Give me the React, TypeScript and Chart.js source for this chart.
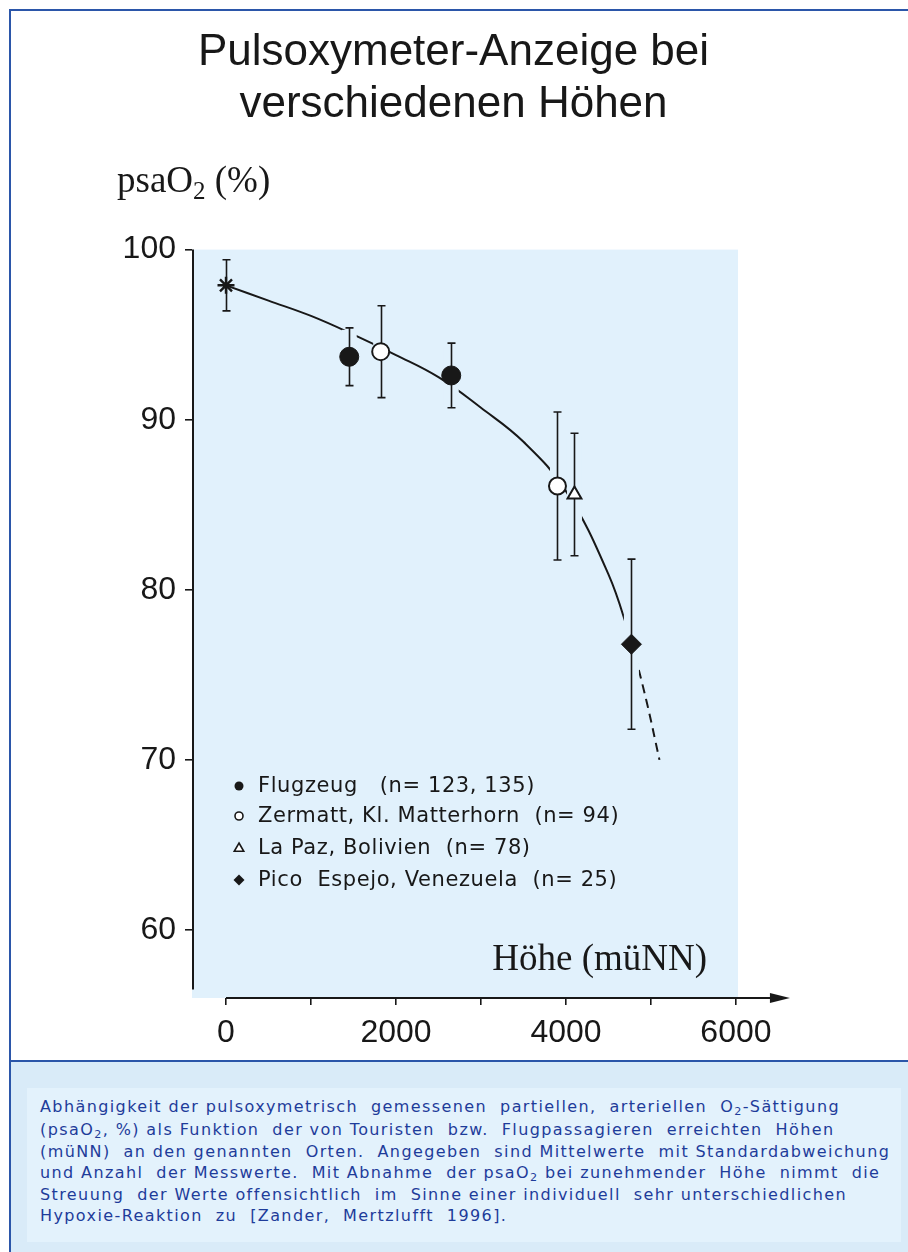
import React, { useEffect, useRef } from 'react';
import { Chart, registerables } from 'chart.js';

Chart.register(...registerables);

// ---------- texts ----------
const TITLE_LINES = ['Pulsoxymeter-Anzeige bei', 'verschiedenen Höhen'];
const X_LABEL = 'Höhe (müNN)';
const Y_LABEL_MAIN = 'psaO';
const Y_LABEL_SUB = '2';
const Y_LABEL_TAIL = ' (%)';

// ---------- axes ----------
const X_TICK_VALUES = [0, 1000, 2000, 3000, 4000, 5000, 6000];
const X_TICK_LABELS = ['0', '', '2000', '', '4000', '', '6000'];
const Y_TICK_VALUES = [60, 70, 80, 90, 100];
const Y_TICK_LABELS = ['60', '70', '80', '90', '100'];
const X_MIN = -400;
const X_MAX = 6024;
const Y_MIN = 56;
const Y_MAX = 100;

// ---------- data (Höhe in m, psaO2 in %, Standardabweichung) ----------
const seaX = [0];
const seaY = [97.9];
const seaSD = [1.5];

const flugX = [1450, 2650];
const flugY = [93.7, 92.6];
const flugSD = [1.7, 1.9];

const zermattX = [1820, 3900];
const zermattY = [94.0, 86.1];
const zermattSD = [2.7, 4.35];

const lapazX = [4100];
const lapazY = [85.6];
const lapazSD = [3.6];

const picoX = [4770];
const picoY = [76.8];
const picoSD = [5.0];

// fitted curve
const curveX = [0, 500, 1000, 1500, 2000, 2500, 3000, 3500, 4000, 4500, 4770];
const curveY = [97.9, 97.0, 96.1, 95.0, 93.8, 92.5, 90.7, 88.7, 85.8, 80.9, 77.0];
const dashX = [4770, 4950, 5100];
const dashY = [77.0, 73.4, 70.0];

// ---------- legend ----------
const LEGEND_LABELS = [
  'Flugzeug   (n= 123, 135)',
  'Zermatt, Kl. Matterhorn  (n= 94)',
  'La Paz, Bolivien  (n= 78)',
  'Pico  Espejo, Venezuela  (n= 25)',
];
const LEGEND_STYLES = ['dot', 'ring', 'triangle', 'diamond'];

// ---------- caption ----------
const CAPTION_LINES = [
  ['Abhängigkeit der pulsoxymetrisch  gemessenen  partiellen,  arteriellen  O', '2', '-Sättigung'],
  ['(psaO', '2', ', %) als Funktion  der von Touristen  bzw.  Flugpassagieren  erreichten  Höhen'],
  ['(müNN)  an den genannten  Orten.  Angegeben  sind Mittelwerte  mit Standardabweichung'],
  ['und Anzahl  der Messwerte.  Mit Abnahme  der psaO', '2', ' bei zunehmender  Höhe  nimmt  die'],
  ['Streuung  der Werte offensichtlich  im  Sinne einer individuell  sehr unterschiedlichen'],
  ['Hypoxie-Reaktion  zu  [Zander,  Mertzlufft  1996].'],
];

const INK = '#181818';
const PLOT_BG = '#e1f1fc';
const SANS = "'Liberation Sans', Arial, sans-serif";
const SERIF = "'Liberation Serif', 'Times New Roman', serif";
const ROUND = "'DejaVu Sans', sans-serif";

const pts = (xs: number[], ys: number[]) => xs.map((x, i) => ({ x, y: ys[i] }));

const ERROR_GROUPS = [
  { xs: seaX, ys: seaY, sd: seaSD, halo: false },
  { xs: flugX, ys: flugY, sd: flugSD, halo: true },
  { xs: zermattX, ys: zermattY, sd: zermattSD, halo: true },
  { xs: lapazX, ys: lapazY, sd: lapazSD, halo: true },
  { xs: picoX, ys: picoY, sd: picoSD, halo: true },
];

function drawMarker(ctx: CanvasRenderingContext2D, style: string, x: number, y: number, r: number) {
  ctx.save();
  ctx.fillStyle = INK;
  ctx.strokeStyle = INK;
  ctx.lineWidth = 1.6;
  ctx.beginPath();
  if (style === 'dot') {
    ctx.arc(x, y, r, 0, Math.PI * 2);
    ctx.fill();
  } else if (style === 'ring') {
    ctx.arc(x, y, r, 0, Math.PI * 2);
    ctx.fillStyle = '#fff';
    ctx.fill();
    ctx.stroke();
  } else if (style === 'triangle') {
    ctx.moveTo(x, y - r);
    ctx.lineTo(x + r * 0.95, y + r * 0.65);
    ctx.lineTo(x - r * 0.95, y + r * 0.65);
    ctx.closePath();
    ctx.fillStyle = '#fff';
    ctx.fill();
    ctx.stroke();
  } else {
    ctx.moveTo(x, y - r);
    ctx.lineTo(x + r, y);
    ctx.lineTo(x, y + r);
    ctx.lineTo(x - r, y);
    ctx.closePath();
    ctx.fill();
  }
  ctx.restore();
}

function drawErrorBars(chart: any) {
  const { ctx } = chart;
  const xs = chart.scales.x;
  const ys = chart.scales.y;
  ctx.save();
  // halo that interrupts the curve where it crosses the bars
  ctx.strokeStyle = PLOT_BG;
  ctx.lineWidth = 15;
  for (const g of ERROR_GROUPS) {
    if (!g.halo) continue;
    g.xs.forEach((xv: number, i: number) => {
      const px = xs.getPixelForValue(xv);
      ctx.beginPath();
      ctx.moveTo(px, ys.getPixelForValue(g.ys[i] + g.sd[i]) + 2);
      ctx.lineTo(px, ys.getPixelForValue(g.ys[i] - g.sd[i]) - 2);
      ctx.stroke();
    });
  }
  ctx.strokeStyle = INK;
  ctx.lineWidth = 1.6;
  for (const g of ERROR_GROUPS) {
    g.xs.forEach((xv: number, i: number) => {
      const px = Math.round(xs.getPixelForValue(xv)) + 0.5;
      const top = ys.getPixelForValue(g.ys[i] + g.sd[i]);
      const bot = ys.getPixelForValue(g.ys[i] - g.sd[i]);
      ctx.beginPath();
      ctx.moveTo(px, top);
      ctx.lineTo(px, bot);
      ctx.moveTo(px - 4, top);
      ctx.lineTo(px + 4, top);
      ctx.moveTo(px - 4, bot);
      ctx.lineTo(px + 4, bot);
      ctx.stroke();
    });
  }
  ctx.restore();
}

const CURVE_INDEX = 5;

const decorPlugin = {
  id: 'decor',
  beforeDraw(chart: any) {
    const { ctx, chartArea: a } = chart;
    ctx.save();
    ctx.fillStyle = '#ffffff';
    ctx.fillRect(0, 0, chart.width, chart.height);
    ctx.fillStyle = PLOT_BG;
    ctx.fillRect(a.left, a.top, a.right - a.left, a.bottom - a.top);
    ctx.restore();
  },
  afterDatasetDraw(chart: any, args: any) {
    if (args.index === CURVE_INDEX) drawErrorBars(chart);
  },
  afterDraw(chart: any) {
    const { ctx, chartArea: a } = chart;
    const xs = chart.scales.x;
    const ys = chart.scales.y;
    ctx.save();
    ctx.strokeStyle = INK;
    ctx.fillStyle = INK;
    ctx.lineWidth = 2;

    // y axis line
    const yx = a.left + 1;
    ctx.beginPath();
    ctx.moveTo(yx, ys.getPixelForValue(Y_MAX));
    ctx.lineTo(yx, ys.getPixelForValue(56.5));
    ctx.stroke();

    // x axis line with arrow
    const x0 = xs.getPixelForValue(0);
    const x6 = xs.getPixelForValue(6000);
    const tip = x6 + 54;
    const ay = a.bottom;
    ctx.beginPath();
    ctx.moveTo(x0, ay);
    ctx.lineTo(tip - 14, ay);
    ctx.stroke();
    ctx.beginPath();
    ctx.moveTo(tip, ay);
    ctx.lineTo(tip - 20, ay - 5);
    ctx.lineTo(tip - 20, ay + 5);
    ctx.closePath();
    ctx.fill();

    // axis titles
    ctx.font = `37px ${SERIF}`;
    ctx.textBaseline = 'alphabetic';
    ctx.textAlign = 'right';
    ctx.fillText(X_LABEL, a.right - 31, a.bottom - 28);

    ctx.textAlign = 'left';
    let lx = a.left - 75;
    const ly = a.top - 58;
    ctx.fillText(Y_LABEL_MAIN, lx, ly);
    lx += ctx.measureText(Y_LABEL_MAIN).width;
    ctx.font = `25px ${SERIF}`;
    ctx.fillText(Y_LABEL_SUB, lx, ly + 7);
    lx += ctx.measureText(Y_LABEL_SUB).width;
    ctx.font = `37px ${SERIF}`;
    ctx.fillText(Y_LABEL_TAIL, lx, ly);

    // legend
    ctx.font = `21px ${ROUND}`;
    (ctx as any).letterSpacing = '0.6px';
    ctx.textBaseline = 'middle';
    const rowY = [a.bottom - 212, a.bottom - 182, a.bottom - 150, a.bottom - 118];
    LEGEND_LABELS.forEach((label, i) => {
      const st = LEGEND_STYLES[i];
      const r = st === 'dot' ? 4.5 : st === 'ring' ? 4 : st === 'triangle' ? 5 : 5.5;
      drawMarker(ctx, st, a.left + 47, rowY[i], r);
      ctx.fillStyle = INK;
      ctx.fillText(label, a.left + 66, rowY[i] + 1);
    });
    ctx.restore();
  },
};

export default function App() {
  const ref = useRef<HTMLCanvasElement>(null);

  useEffect(() => {
    const canvas = ref.current;
    if (!canvas) return;
    const chart = new Chart(canvas, {
      type: 'scatter',
      data: {
        datasets: [
          {
            label: 'Meereshöhe',
            data: pts(seaX, seaY),
            pointStyle: 'star',
            pointRadius: 8.5,
            borderColor: INK,
            backgroundColor: INK,
            borderWidth: 2.4,
          },
          {
            label: 'Flugzeug',
            data: pts(flugX, flugY),
            pointStyle: 'circle',
            pointRadius: 9.5,
            borderColor: INK,
            backgroundColor: INK,
            borderWidth: 1,
          },
          {
            label: 'Zermatt, Kl. Matterhorn',
            data: pts(zermattX, zermattY),
            pointStyle: 'circle',
            pointRadius: 8.5,
            borderColor: INK,
            backgroundColor: '#ffffff',
            borderWidth: 2,
          },
          {
            label: 'La Paz, Bolivien',
            data: pts(lapazX, lapazY),
            pointStyle: 'triangle',
            pointRadius: 8,
            borderColor: INK,
            backgroundColor: '#ffffff',
            borderWidth: 2,
          },
          {
            label: 'Pico Espejo, Venezuela',
            data: pts(picoX, picoY),
            pointStyle: 'rectRot',
            pointRadius: 10,
            borderColor: INK,
            backgroundColor: INK,
            borderWidth: 1,
          },
          {
            label: 'Kurve',
            data: pts(curveX, curveY),
            showLine: true,
            pointRadius: 0,
            borderColor: INK,
            borderWidth: 2,
            tension: 0.4,
            fill: false,
          },
          {
            label: 'Kurve (extrapoliert)',
            data: pts(dashX, dashY),
            showLine: true,
            pointRadius: 0,
            borderColor: INK,
            borderWidth: 2,
            borderDash: [9, 6],
            tension: 0.4,
            fill: false,
          },
        ],
      },
      options: {
        responsive: false,
        maintainAspectRatio: false,
        animation: false,
        events: [],
        layout: { padding: { left: 0, right: 12, top: 0, bottom: 0 } },
        plugins: {
          legend: { display: false },
          tooltip: { enabled: false },
          title: {
            display: true,
            text: TITLE_LINES,
            color: INK,
            font: { family: SANS, size: 44, weight: 'normal', lineHeight: 1.2 },
            padding: { top: 15, bottom: 118 },
          },
        },
        scales: {
          x: {
            type: 'linear',
            min: X_MIN,
            max: X_MAX,
            afterBuildTicks: (s: any) => {
              s.ticks = X_TICK_VALUES.map((v) => ({ value: v }));
            },
            afterFit: (s: any) => {
              s.height = 63;
            },
            grid: { drawOnChartArea: false, drawTicks: true, tickLength: 7, color: INK, lineWidth: 1.6 },
            border: { display: false },
            ticks: {
              autoSkip: false,
              maxRotation: 0,
              padding: 9,
              color: INK,
              font: { family: SANS, size: 32 },
              callback: (v: any) => {
                const i = X_TICK_VALUES.indexOf(Number(v));
                return i >= 0 ? X_TICK_LABELS[i] : '';
              },
            },
          },
          y: {
            type: 'linear',
            min: Y_MIN,
            max: Y_MAX,
            afterBuildTicks: (s: any) => {
              s.ticks = Y_TICK_VALUES.map((v) => ({ value: v }));
            },
            afterFit: (s: any) => {
              s.width = 181;
            },
            grid: { drawOnChartArea: false, drawTicks: true, tickLength: 7, color: INK, lineWidth: 1.6 },
            border: { display: false },
            ticks: {
              autoSkip: false,
              padding: 9,
              color: INK,
              font: { family: SANS, size: 32 },
              callback: (v: any) => {
                const i = Y_TICK_VALUES.indexOf(Number(v));
                return i >= 0 ? Y_TICK_LABELS[i] : '';
              },
            },
          },
          // empty spacer on the right so that the plot keeps its place and the title stays centred
          spacer: {
            type: 'linear',
            position: 'right',
            min: 0,
            max: 1,
            display: true,
            ticks: { display: false },
            grid: { display: false },
            border: { display: false },
            afterFit: (s: any) => {
              s.width = 158;
            },
          },
        },
      },
      plugins: [decorPlugin],
    } as any);
    return () => chart.destroy();
  }, []);

  const blue = '#2b56a9';
  const subStyle: React.CSSProperties = { fontSize: '70%', verticalAlign: 'baseline', position: 'relative', top: 3 };

  return (
    <div style={{ position: 'absolute', left: 0, top: 0, width: 908, height: 1252, background: '#ffffff', overflow: 'hidden' }}>
      <div style={{ position: 'absolute', left: 9, top: 9, width: 899, height: 2, background: blue }} />
      <div style={{ position: 'absolute', left: 9, top: 9, width: 2, height: 1243, background: blue }} />
      <div style={{ position: 'absolute', left: 11, top: 11, width: 897, height: 1050 }}>
        <canvas ref={ref} width={897} height={1050} style={{ display: 'block', width: 897, height: 1050 }} />
      </div>
      <div style={{ position: 'absolute', left: 11, top: 1060, width: 897, height: 2, background: blue }} />
      <div style={{ position: 'absolute', left: 11, top: 1062, width: 897, height: 190, background: '#d9ebf8' }}>
        <div
          style={{
            position: 'absolute',
            left: 16,
            top: 26,
            width: 874,
            height: 154,
            background: '#e3f2fc',
            boxSizing: 'border-box',
            padding: '9px 0 0 13px',
            fontFamily: ROUND,
            fontSize: 16,
            lineHeight: '20.6px',
            letterSpacing: '1.4px',
            color: '#1e3c9a',
            whiteSpace: 'pre',
          }}
        >
          {CAPTION_LINES.map((parts, i) => (
            <div key={i}>
              {parts.map((p, j) => (j % 2 === 1 ? <span key={j} style={subStyle}>{p}</span> : <span key={j}>{p}</span>))}
            </div>
          ))}
        </div>
      </div>
    </div>
  );
}
